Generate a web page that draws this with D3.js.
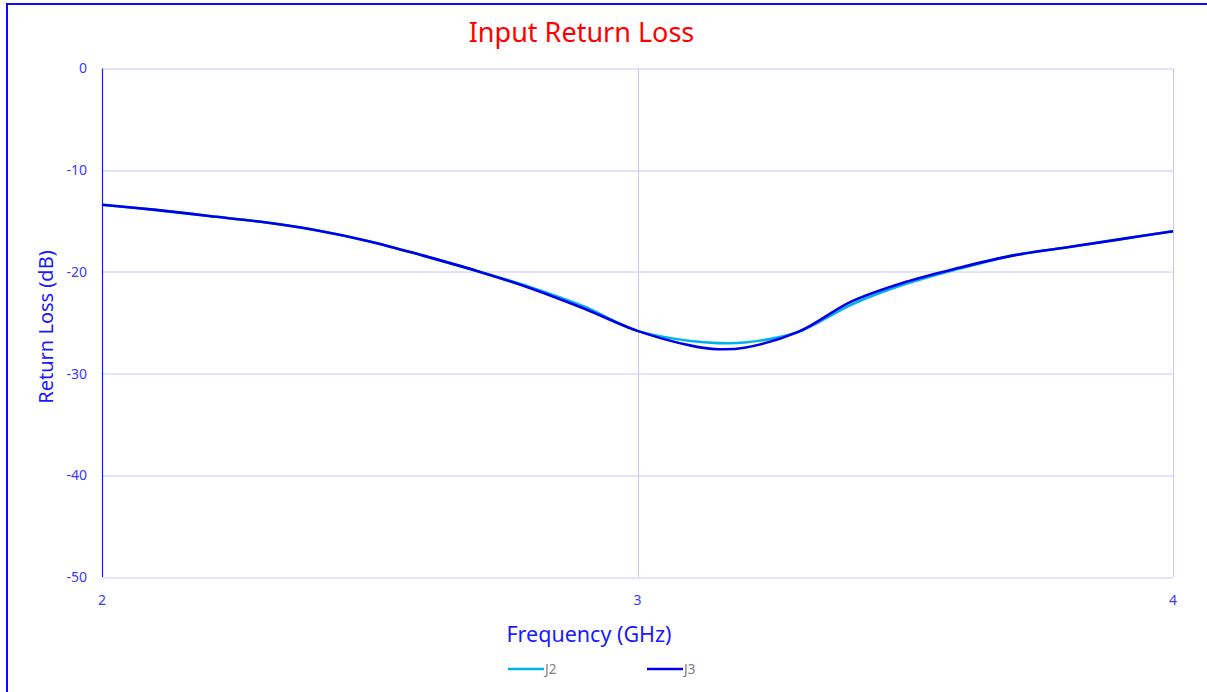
<!DOCTYPE html>
<meta charset="utf-8">
<script src="https://d3js.org/d3.v7.min.js"></script>
<style>
body { margin: 0; padding: 0; background: #fff; font-family: 'Noto Sans', 'Open Sans', Arial, sans-serif; }
.grid line { stroke: #c8c8ff; stroke-width: 1px; }
.tick-label { fill: #3a3aff; font-size: 14px; }
</style>
<body>
<div id="my_dataviz"></div>
<script>

// frequency points (GHz)
var freq = [2.0, 2.1, 2.2, 2.3, 2.4, 2.5, 2.6, 2.7, 2.8, 2.9, 3.0, 3.1, 3.15, 3.2, 3.3, 3.4, 3.5, 3.6, 3.7, 3.8, 3.9, 4.0];

// return loss (dB)
var j2 = [-13.4, -13.9, -14.5, -15.1, -15.9, -17.0, -18.4, -19.9, -21.5, -23.4, -25.8, -26.8, -27.0, -26.95, -25.9, -23.2, -21.2, -19.7, -18.4, -17.6, -16.8, -16.0];
var j3 = [-13.4, -13.9, -14.5, -15.1, -15.9, -17.0, -18.4, -19.9, -21.6, -23.6, -25.8, -27.25, -27.6, -27.45, -25.9, -22.9, -21.0, -19.6, -18.4, -17.6, -16.8, -16.0];

var xTicks = [2, 3, 4];
var yTicks = [0, -10, -20, -30, -40, -50];

var seriesNames = ["J2", "J3"];
var seriesColors = ["#00b0f0", "#0000e6"];

var W = 1207, H = 692;
var margin = {top: 68.5, right: 34, bottom: 115, left: 102};
var width = 1173 - margin.left,
    height = 577 - margin.top;

var root = d3.select("#my_dataviz")
  .append("svg")
    .attr("width", W)
    .attr("height", H);

// outer frame
root.append("rect")
  .attr("x", 7).attr("y", 4)
  .attr("width", W + 20).attr("height", H + 20)
  .attr("fill", "none")
  .attr("stroke", "#0a0aff")
  .attr("stroke-width", 2);

var svg = root.append("g")
  .attr("transform", "translate(" + margin.left + "," + margin.top + ")");

var x = d3.scaleLinear().domain([2, 4]).range([0, width]);
var y = d3.scaleLinear().domain([-50, 0]).range([height, 0]);

// gridlines
var grid = svg.append("g").attr("class", "grid");
grid.selectAll("hline")
  .data(yTicks)
  .enter()
  .append("line")
    .attr("x1", 0).attr("x2", width)
    .attr("y1", function(d){ return Math.round(y(d)) + 0.5; })
    .attr("y2", function(d){ return Math.round(y(d)) + 0.5; });
grid.selectAll("vline")
  .data(xTicks.slice(1))
  .enter()
  .append("line")
    .attr("y1", 0).attr("y2", height)
    .attr("x1", function(d){ return Math.round(x(d)) + 0.5; })
    .attr("x2", function(d){ return Math.round(x(d)) + 0.5; });

// left axis line
svg.append("line")
  .attr("x1", 0.5).attr("x2", 0.5)
  .attr("y1", 0).attr("y2", height)
  .attr("stroke", "#1a1aff")
  .attr("stroke-width", 1.2);

// tick labels
svg.selectAll("ylab")
  .data(yTicks)
  .enter()
  .append("text")
    .attr("class", "tick-label")
    .attr("x", -15)
    .attr("y", function(d){ return y(d); })
    .attr("dy", "0.35em")
    .attr("text-anchor", "end")
    .text(function(d){ return d; });

svg.selectAll("xlab")
  .data(xTicks)
  .enter()
  .append("text")
    .attr("class", "tick-label")
    .attr("x", function(d){ return x(d); })
    .attr("y", height + 28)
    .attr("text-anchor", "middle")
    .text(function(d){ return d; });

// lines
var line = d3.line()
  .x(function(d){ return x(d[0]); })
  .y(function(d){ return y(d[1]); })
  .curve(d3.curveCatmullRom.alpha(0.5));

[j2, j3].forEach(function(vals, i){
  svg.append("path")
    .datum(freq.map(function(f, k){ return [f, vals[k]]; }))
    .attr("fill", "none")
    .attr("stroke", seriesColors[i])
    .attr("stroke-width", 2.6)
    .attr("d", line);
});

// titles
root.append("text")
  .attr("x", 581.5).attr("y", 42)
  .attr("text-anchor", "middle")
  .style("font-size", "27px")
  .style("fill", "#ff0000")
  .text("Input Return Loss");

root.append("text")
  .attr("x", 589).attr("y", 642)
  .attr("text-anchor", "middle")
  .style("font-size", "21.5px")
  .style("fill", "#1a1aff")
  .text("Frequency (GHz)");

root.append("text")
  .attr("transform", "translate(53,327) rotate(-90)")
  .attr("text-anchor", "middle")
  .style("font-size", "20px")
  .style("fill", "#1a1aff")
  .text("Return Loss (dB)");

// legend
var legendX = [508, 647];
var legend = root.selectAll("legend")
  .data(seriesNames)
  .enter()
  .append("g")
    .attr("transform", function(d, i){ return "translate(" + legendX[i] + ",669)"; });
legend.append("line")
  .attr("x1", 0).attr("x2", 36)
  .attr("stroke", function(d, i){ return seriesColors[i]; })
  .attr("stroke-width", 2.6);
legend.append("text")
  .attr("x", 37)
  .attr("dy", "0.35em")
  .style("font-size", "13.5px")
  .style("fill", "#808080")
  .text(function(d){ return d; });

</script>
</body>
